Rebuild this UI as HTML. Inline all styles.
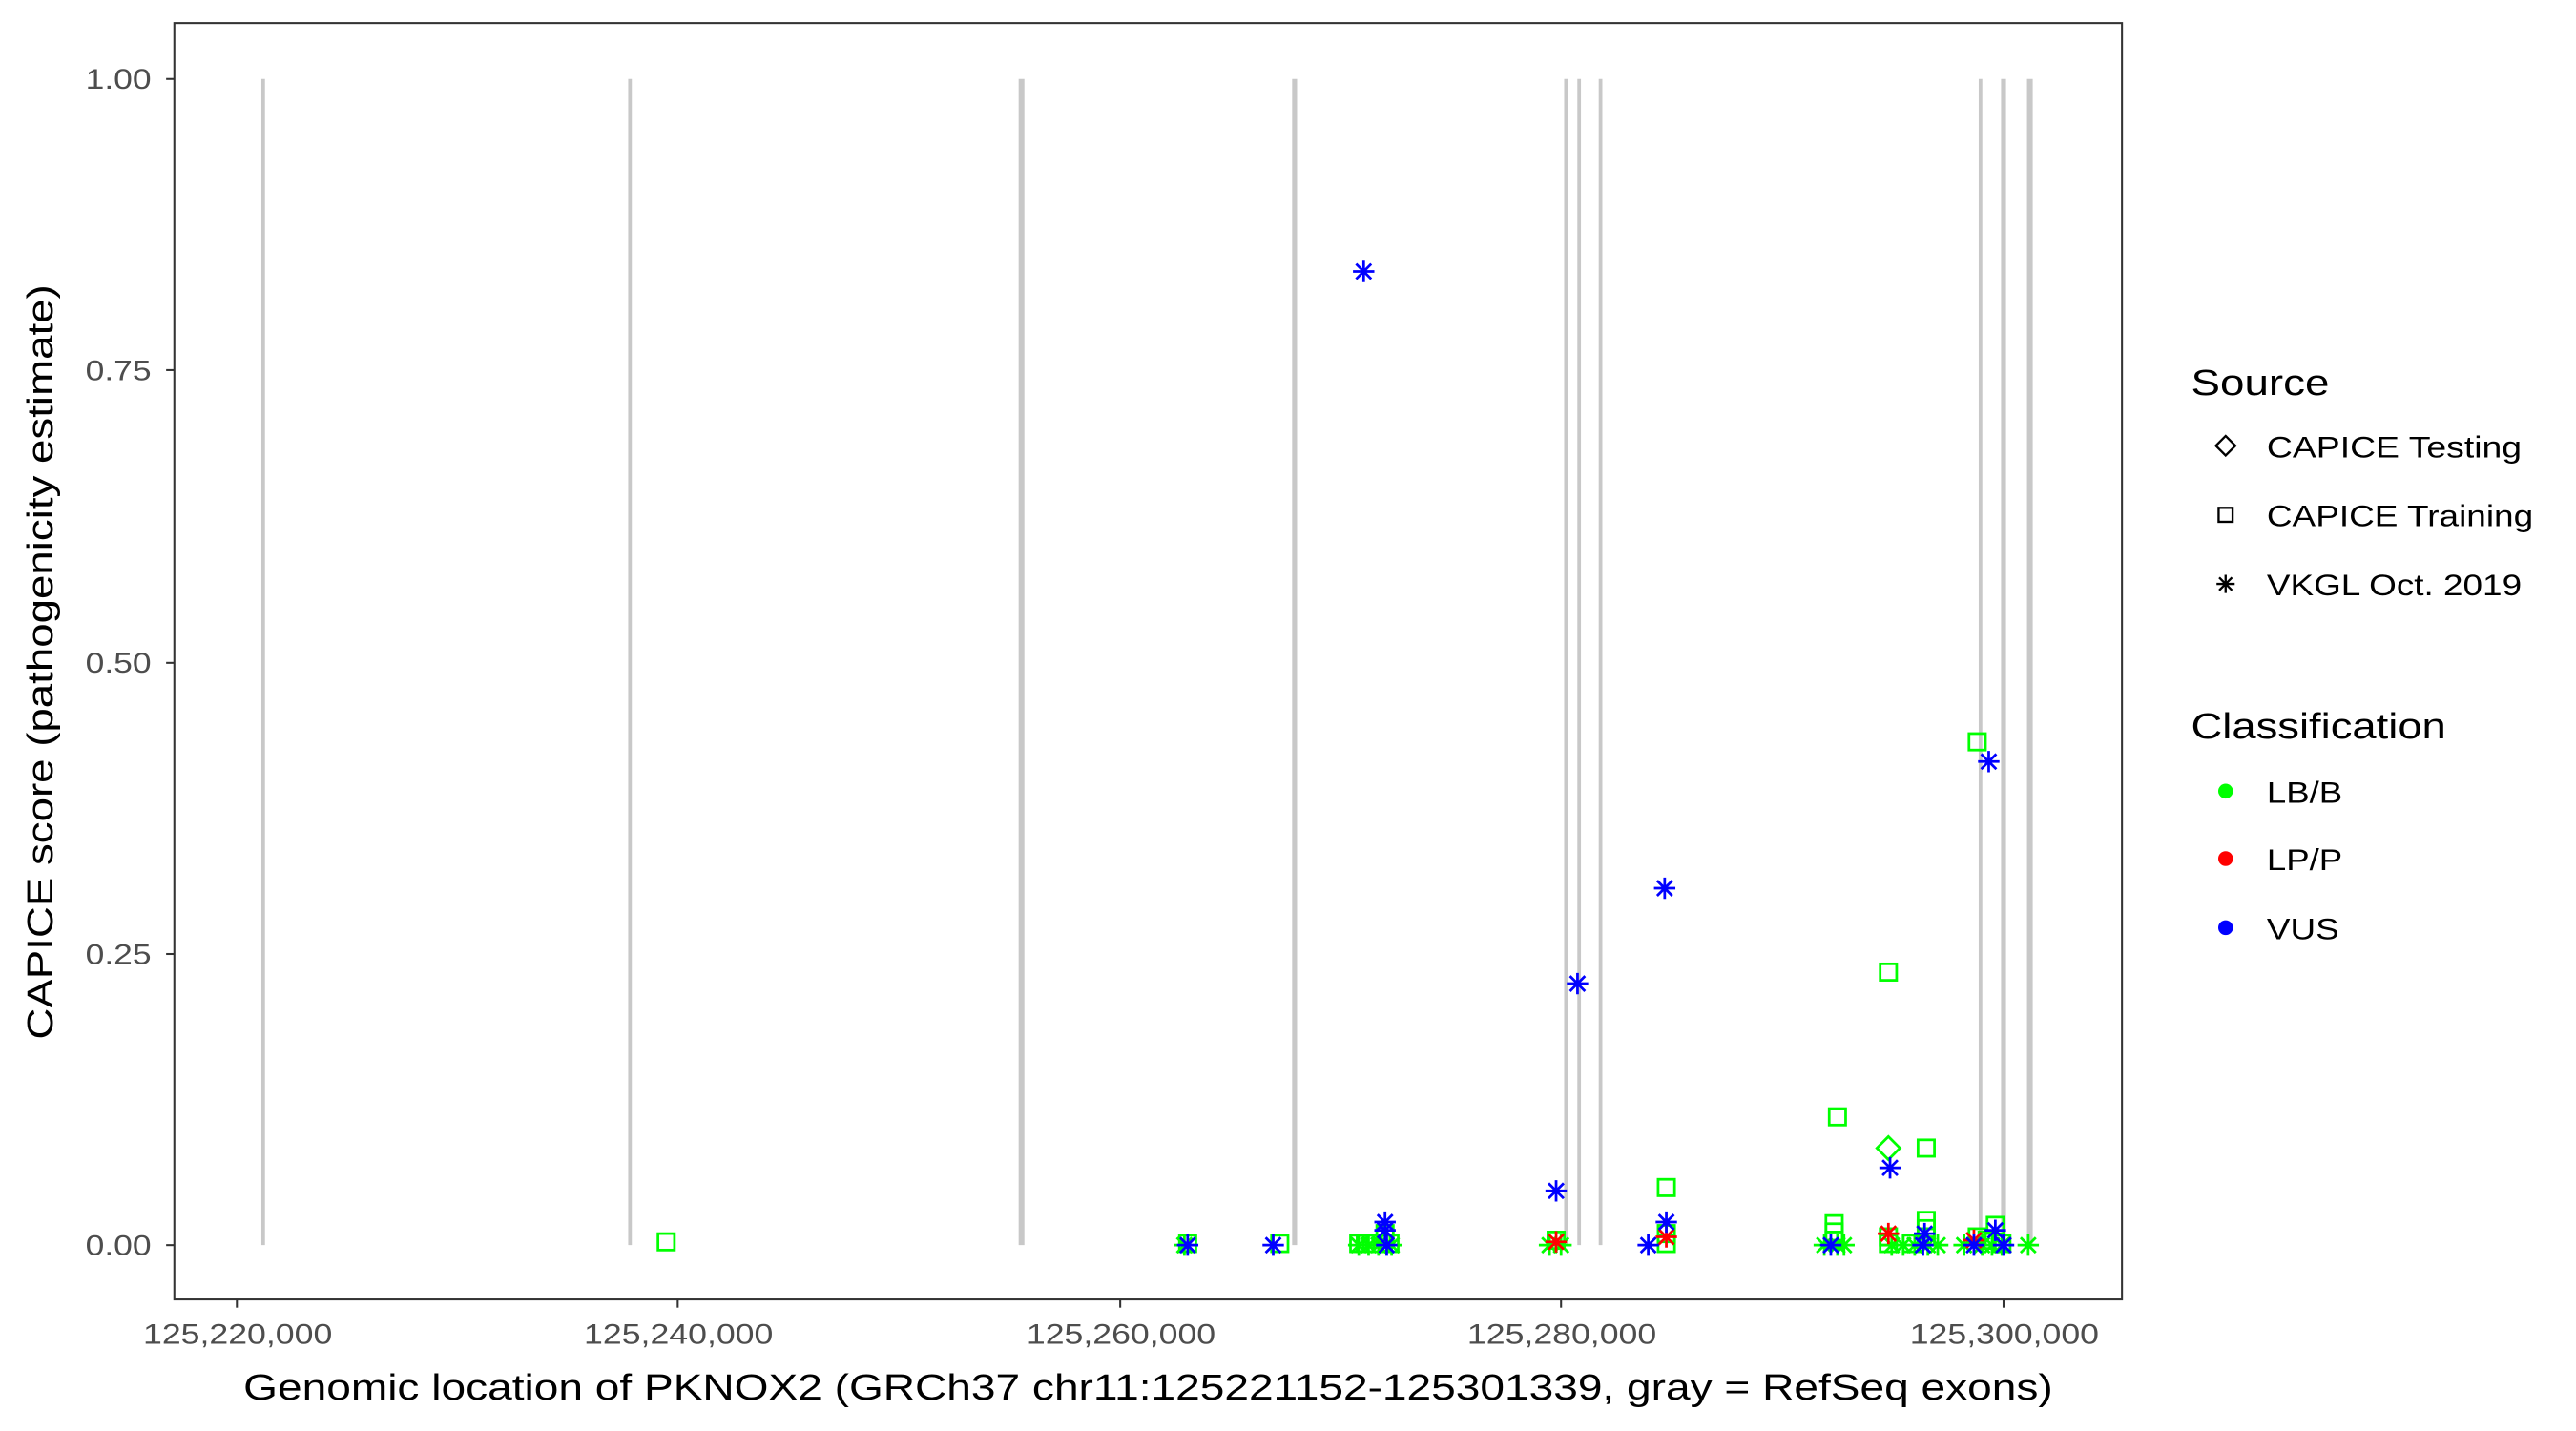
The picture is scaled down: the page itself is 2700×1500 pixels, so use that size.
<!DOCTYPE html>
<html><head><meta charset="utf-8"><style>html,body{margin:0;padding:0;background:#fff}svg{display:block}</style></head>
<body>
<svg width="2700" height="1500" viewBox="0 0 1566 870" preserveAspectRatio="none" xmlns="http://www.w3.org/2000/svg" font-family="Liberation Sans, Arial, sans-serif">
<defs>
<path id="st" d="M-6.5,0H6.5M0,-6.5V6.5M-4.6,-4.6L4.6,4.6M-4.6,4.6L4.6,-4.6" fill="none" stroke-width="1.6"/>
<rect id="sq" x="-5" y="-5" width="10" height="10" fill="none" stroke-width="1.6"/>
<path id="di" d="M0,-7L7,0L0,7L-7,0Z" fill="none" stroke-width="1.6"/>
</defs>
<rect x="0" y="0" width="1566" height="870" fill="#fff"/>
<g stroke="#c8c8c8" stroke-width="2.2">
<line x1="160" y1="48" x2="160" y2="757"/>
<line x1="383" y1="48" x2="383" y2="757"/>
<line x1="621" y1="48" x2="621" y2="757" stroke-width="3.5"/>
<line x1="787" y1="48" x2="787" y2="757" stroke-width="3"/>
<line x1="952" y1="48" x2="952" y2="757"/>
<line x1="960" y1="48" x2="960" y2="757"/>
<line x1="973" y1="48" x2="973" y2="757"/>
<line x1="1204" y1="48" x2="1204" y2="757"/>
<line x1="1218" y1="48" x2="1218" y2="757" stroke-width="3"/>
<line x1="1234" y1="48" x2="1234" y2="757" stroke-width="3.5"/>
</g>
<g stroke="#00ff00">
<use href="#sq" x="405" y="755"/>
<use href="#sq" x="722" y="756"/><use href="#st" x="720" y="757"/>
<use href="#sq" x="778" y="756"/>
<use href="#sq" x="826" y="756"/><use href="#sq" x="830" y="756"/><use href="#sq" x="834" y="756"/><use href="#sq" x="840" y="756"/><use href="#sq" x="845" y="756"/><use href="#sq" x="842" y="750"/>
<use href="#st" x="826" y="757"/><use href="#st" x="832" y="757"/><use href="#st" x="838" y="757"/><use href="#st" x="846" y="757"/>
<use href="#sq" x="946" y="754"/><use href="#st" x="942" y="757"/><use href="#st" x="949" y="757"/>
<use href="#sq" x="1013" y="722"/><use href="#sq" x="1013" y="750"/><use href="#sq" x="1013" y="756"/>
<use href="#sq" x="1117" y="679"/><use href="#sq" x="1115" y="744"/><use href="#sq" x="1115" y="749"/><use href="#sq" x="1115" y="754"/>
<use href="#st" x="1109" y="757"/><use href="#st" x="1117" y="757"/><use href="#st" x="1121" y="757"/>
<use href="#sq" x="1148" y="591"/><use href="#di" x="1148" y="698"/><use href="#sq" x="1148" y="752"/><use href="#sq" x="1148" y="756"/>
<use href="#st" x="1150" y="757"/><use href="#st" x="1157" y="757"/>
<use href="#sq" x="1171" y="698"/><use href="#sq" x="1171" y="742"/><use href="#sq" x="1171" y="747"/><use href="#sq" x="1171" y="752"/><use href="#sq" x="1162" y="756"/>
<use href="#st" x="1164" y="757"/><use href="#st" x="1172" y="757"/><use href="#st" x="1178" y="757"/>
<use href="#sq" x="1202" y="451"/><use href="#sq" x="1202" y="752"/><use href="#sq" x="1213" y="745"/><use href="#sq" x="1208" y="754"/><use href="#sq" x="1217" y="756"/>
<use href="#st" x="1194" y="757"/><use href="#st" x="1205" y="757"/><use href="#st" x="1211" y="757"/><use href="#st" x="1217" y="757"/><use href="#st" x="1233" y="757"/>
</g>
<g stroke="#ff0000">
<use href="#st" x="946" y="755"/>
<use href="#st" x="1013" y="752"/>
<use href="#st" x="1148" y="750"/>
<use href="#st" x="1200" y="754"/>
</g>
<g stroke="#0000ff">
<use href="#st" x="722" y="757"/>
<use href="#st" x="774" y="757"/>
<use href="#st" x="842" y="743"/><use href="#st" x="842" y="748"/><use href="#st" x="843" y="757"/>
<use href="#st" x="829" y="165"/>
<use href="#st" x="946" y="724"/>
<use href="#st" x="959" y="598"/>
<use href="#st" x="1002" y="757"/>
<use href="#st" x="1013" y="743"/>
<use href="#st" x="1012" y="540"/>
<use href="#st" x="1113" y="757"/>
<use href="#st" x="1149" y="710"/>
<use href="#st" x="1170" y="750"/><use href="#st" x="1169" y="757"/>
<use href="#st" x="1209" y="463"/>
<use href="#st" x="1200" y="757"/><use href="#st" x="1213" y="748"/><use href="#st" x="1218" y="757"/>
</g>
<rect x="106" y="14" width="1184" height="776" fill="none" stroke="#333" stroke-width="1.2"/>
<g stroke="#333" stroke-width="1.2">
<line x1="101" y1="48" x2="106" y2="48"/><line x1="101" y1="225" x2="106" y2="225"/><line x1="101" y1="403" x2="106" y2="403"/><line x1="101" y1="580" x2="106" y2="580"/><line x1="101" y1="757" x2="106" y2="757"/>
<line x1="144" y1="790" x2="144" y2="795"/><line x1="412" y1="790" x2="412" y2="795"/><line x1="681" y1="790" x2="681" y2="795"/><line x1="949" y1="790" x2="949" y2="795"/><line x1="1218" y1="790" x2="1218" y2="795"/>
</g>
<g font-size="17" fill="#4d4d4d" lengthAdjust="spacingAndGlyphs">
<text x="52" y="54" textLength="40" lengthAdjust="spacingAndGlyphs">1.00</text>
<text x="52" y="231" textLength="40" lengthAdjust="spacingAndGlyphs">0.75</text>
<text x="52" y="409" textLength="40" lengthAdjust="spacingAndGlyphs">0.50</text>
<text x="52" y="586" textLength="40" lengthAdjust="spacingAndGlyphs">0.25</text>
<text x="52" y="763" textLength="40" lengthAdjust="spacingAndGlyphs">0.00</text>
</g>
<g font-size="17" fill="#4d4d4d">
<text x="87" y="817" textLength="115" lengthAdjust="spacingAndGlyphs">125,220,000</text>
<text x="355" y="817" textLength="115" lengthAdjust="spacingAndGlyphs">125,240,000</text>
<text x="624" y="817" textLength="115" lengthAdjust="spacingAndGlyphs">125,260,000</text>
<text x="892" y="817" textLength="115" lengthAdjust="spacingAndGlyphs">125,280,000</text>
<text x="1161" y="817" textLength="115" lengthAdjust="spacingAndGlyphs">125,300,000</text>
</g>
<text x="148" y="851" font-size="22" fill="#000" textLength="1100" lengthAdjust="spacingAndGlyphs">Genomic location of PKNOX2 (GRCh37 chr11:125221152-125301339, gray = RefSeq exons)</text>
<text transform="translate(32,632) rotate(-90)" font-size="22" fill="#000" textLength="459" lengthAdjust="spacingAndGlyphs">CAPICE score (pathogenicity estimate)</text>
<text x="1332" y="240" font-size="22" textLength="84" lengthAdjust="spacingAndGlyphs">Source</text>
<g stroke="#000"><use href="#di" x="1353" y="271" transform="translate(1353,271) scale(0.85) translate(-1353,-271)"/><use href="#sq" x="1353" y="313" transform="translate(1353,313) scale(0.85) translate(-1353,-313)"/><use href="#st" x="1353" y="355" transform="translate(1353,355) scale(0.85) translate(-1353,-355)"/></g>
<g font-size="18">
<text x="1378" y="278" textLength="155" lengthAdjust="spacingAndGlyphs">CAPICE Testing</text>
<text x="1378" y="320" textLength="162" lengthAdjust="spacingAndGlyphs">CAPICE Training</text>
<text x="1378" y="362" textLength="155" lengthAdjust="spacingAndGlyphs">VKGL Oct. 2019</text>
</g>
<text x="1332" y="449" font-size="22" textLength="155" lengthAdjust="spacingAndGlyphs">Classification</text>
<circle cx="1353" cy="481" r="4.5" fill="#00ff00"/><circle cx="1353" cy="522" r="4.5" fill="#ff0000"/><circle cx="1353" cy="564" r="4.5" fill="#0000ff"/>
<g font-size="18">
<text x="1378" y="488" textLength="46" lengthAdjust="spacingAndGlyphs">LB/B</text>
<text x="1378" y="529" textLength="46" lengthAdjust="spacingAndGlyphs">LP/P</text>
<text x="1378" y="571" textLength="44" lengthAdjust="spacingAndGlyphs">VUS</text>
</g>
</svg>
</body></html>
